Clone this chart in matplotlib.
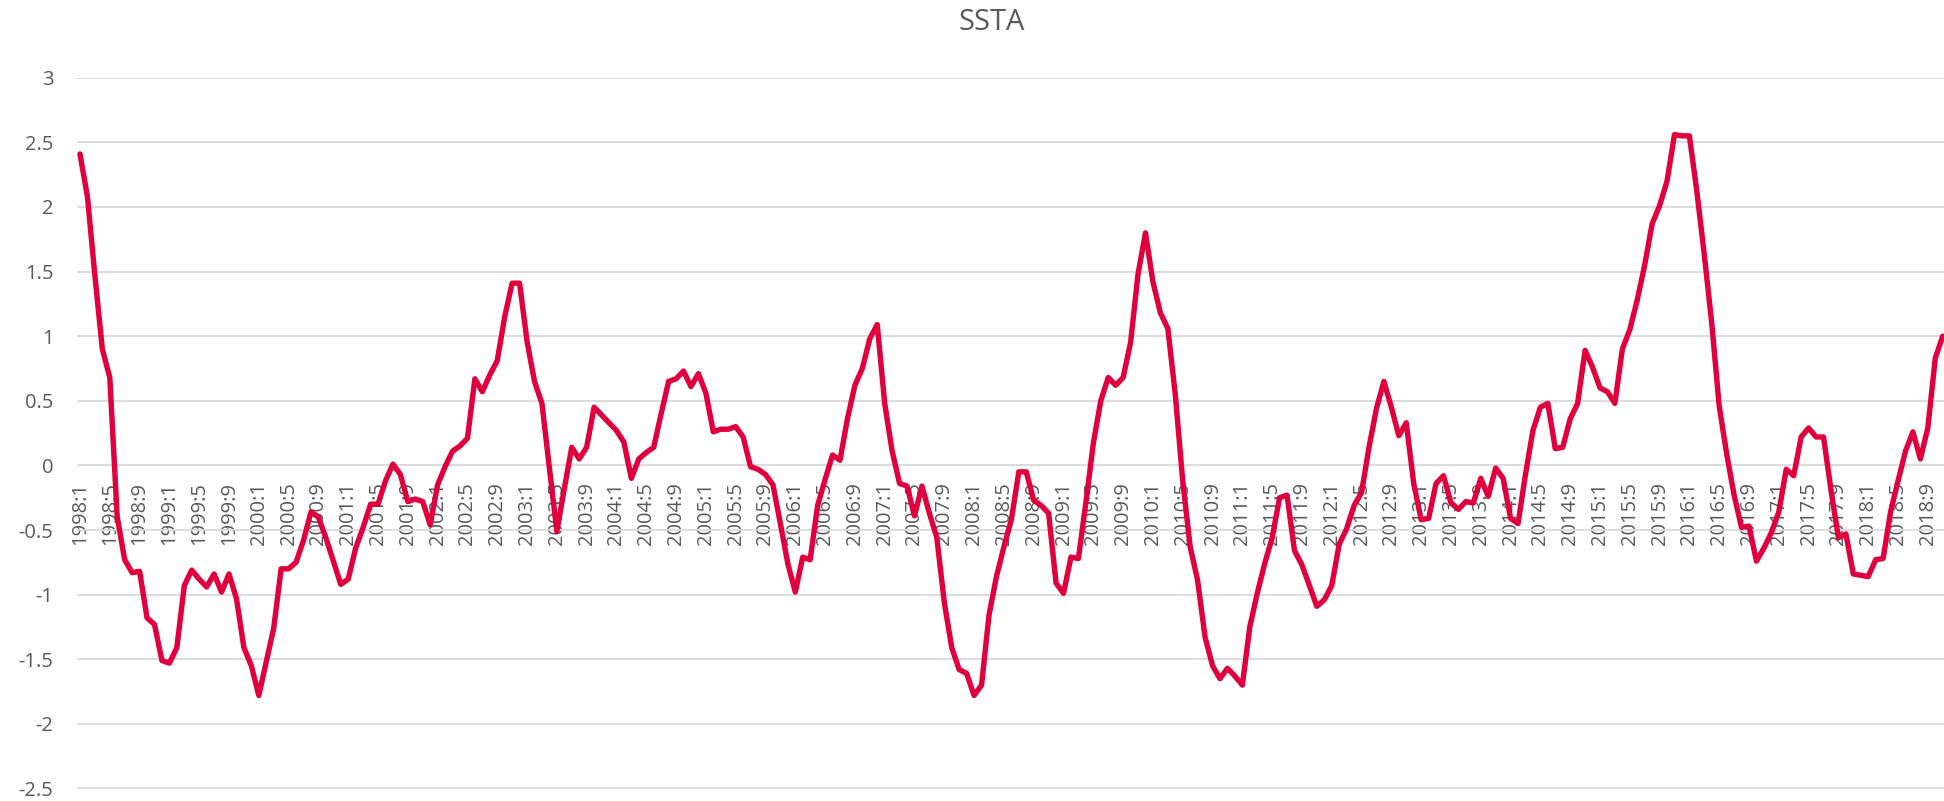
import numpy as np
import matplotlib
matplotlib.use("Agg")
import matplotlib.pyplot as plt

plt.rcParams['font.family'] = ['Open Sans', 'DejaVu Sans']
plt.rcParams['axes.unicode_minus'] = False

start_year = 1998
start_month = 1

# Monthly SSTA values, 1998:1 .. 2018:11 (one row per year)
ssta = [
    2.41, 2.08, 1.47, 0.90, 0.68, -0.40, -0.73, -0.83, -0.82, -1.18, -1.23, -1.51,   # 1998
    -1.53, -1.41, -0.93, -0.81, -0.88, -0.94, -0.84, -0.98, -0.84, -1.03, -1.41, -1.55,  # 1999
    -1.78, -1.52, -1.26, -0.80, -0.80, -0.75, -0.58, -0.36, -0.40, -0.56, -0.74, -0.92,  # 2000
    -0.88, -0.64, -0.48, -0.30, -0.30, -0.12, 0.01, -0.07, -0.28, -0.26, -0.28, -0.46,   # 2001
    -0.15, -0.01, 0.11, 0.15, 0.21, 0.67, 0.57, 0.70, 0.81, 1.15, 1.41, 1.41,            # 2002
    0.96, 0.65, 0.48, -0.02, -0.51, -0.18, 0.14, 0.05, 0.14, 0.45, 0.39, 0.33,           # 2003
    0.27, 0.18, -0.10, 0.05, 0.10, 0.14, 0.40, 0.65, 0.67, 0.73, 0.61, 0.71,             # 2004
    0.56, 0.26, 0.28, 0.28, 0.30, 0.22, -0.01, -0.03, -0.07, -0.15, -0.45, -0.76,        # 2005
    -0.98, -0.71, -0.73, -0.31, -0.11, 0.08, 0.04, 0.36, 0.62, 0.75, 0.98, 1.09,         # 2006
    0.48, 0.11, -0.14, -0.16, -0.39, -0.16, -0.37, -0.56, -1.06, -1.41, -1.58, -1.61,    # 2007
    -1.78, -1.70, -1.16, -0.86, -0.63, -0.42, -0.05, -0.05, -0.27, -0.31, -0.37, -0.91,  # 2008
    -0.99, -0.71, -0.72, -0.29, 0.17, 0.50, 0.68, 0.62, 0.68, 0.95, 1.48, 1.80,          # 2009
    1.42, 1.18, 1.06, 0.55, -0.12, -0.63, -0.89, -1.33, -1.55, -1.65, -1.57, -1.63,     # 2010
    -1.70, -1.25, -0.99, -0.76, -0.56, -0.25, -0.23, -0.66, -0.77, -0.93, -1.09, -1.04,  # 2011
    -0.93, -0.61, -0.49, -0.31, -0.21, 0.14, 0.44, 0.65, 0.45, 0.23, 0.33, -0.14,        # 2012
    -0.42, -0.41, -0.14, -0.08, -0.29, -0.34, -0.28, -0.29, -0.10, -0.24, -0.02, -0.10,  # 2013
    -0.41, -0.45, -0.07, 0.27, 0.45, 0.48, 0.13, 0.14, 0.36, 0.48, 0.89, 0.76,          # 2014
    0.60, 0.57, 0.48, 0.90, 1.05, 1.28, 1.55, 1.87, 2.01, 2.20, 2.56, 2.55,             # 2015
    2.55, 2.12, 1.63, 1.10, 0.46, 0.09, -0.23, -0.48, -0.47, -0.74, -0.64, -0.52,       # 2016
    -0.36, -0.03, -0.08, 0.22, 0.29, 0.22, 0.22, -0.19, -0.56, -0.53, -0.84, -0.85,     # 2017
    -0.86, -0.73, -0.72, -0.36, -0.12, 0.11, 0.26, 0.05, 0.29, 0.83, 1.00,              # 2018
]

y_ticks = [-2.5, -2, -1.5, -1, -0.5, 0, 0.5, 1, 1.5, 2, 2.5, 3]
y_tick_labels = ['-2.5', '-2', '-1.5', '-1', '-0.5', '0', '0.5', '1', '1.5', '2', '2.5', '3']
label_step = 4

n = len(ssta)
categories = []
for i in range(n):
    mm = start_month - 1 + i
    categories.append(f"{start_year + mm // 12}:{mm % 12 + 1}")
x = np.arange(n)

W, H = 1944, 801
fig = plt.figure(figsize=(W / 100, H / 100), dpi=100)
fig.patch.set_facecolor('white')

left, right = 77, 1944
top, bottom = 77.7, 788.5
ax = fig.add_axes([left / W, 1 - bottom / H, (right - left) / W, (bottom - top) / H])

ax.plot(x, ssta, color='#E0003D', lw=3.9, solid_joinstyle='round',
        solid_capstyle='round', zorder=3, clip_on=False)

ax.set_xlim(-0.4, n - 1 + 0.17)
ax.set_ylim(-2.5, 3)

ax.set_yticks(y_ticks)
ax.set_yticklabels(y_tick_labels)
ax.yaxis.grid(True, color='#D9D9D9', lw=1.3)
ax.set_axisbelow(True)

for side in ['top', 'right', 'left']:
    ax.spines[side].set_visible(False)
ax.spines['bottom'].set_position(('data', 0))
ax.spines['bottom'].set_color('none')

ax.set_xticks(x[::label_step])
ax.set_xticklabels(categories[::label_step], rotation=90)

ax.tick_params(axis='both', length=0, labelcolor='#595959')
ax.tick_params(axis='y', pad=17, labelsize=14.5)
ax.tick_params(axis='x', pad=12, labelsize=14.5)

fig.text(992 / W, 1 - 22 / H, 'SSTA', ha='center', va='center',
         fontsize=21, color='#595959')

fig.savefig('out.png', dpi=100, facecolor='white')
